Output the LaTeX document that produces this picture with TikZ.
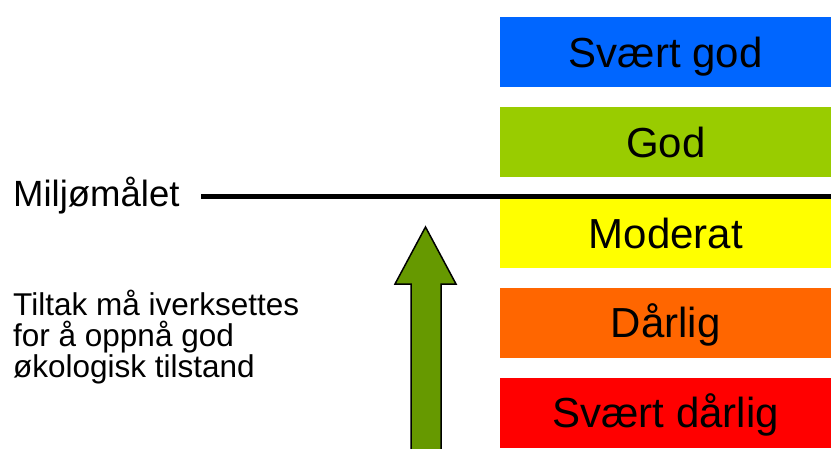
\documentclass[tikz,border=0pt]{standalone}
\usepackage{fontspec}
\setmainfont{Liberation Sans}
\definecolor{cblue}{HTML}{0066FF}
\definecolor{cgreen}{HTML}{99CC00}
\definecolor{cyellow}{HTML}{FFFF00}
\definecolor{corange}{HTML}{FF6600}
\definecolor{cred}{HTML}{FF0000}
\definecolor{carrow}{HTML}{669900}
\begin{document}
\begin{tikzpicture}[x=1pt,y=-1pt,
  classbox/.style={minimum width=331pt,minimum height=70pt,inner sep=0pt,anchor=north west,
    font=\fontsize{42}{46}\selectfont,text height=30pt,text depth=0pt},
  lefttext/.style={inner sep=0pt,anchor=base west,font=\fontsize{31}{31}\selectfont}]
\useasboundingbox (0,0) rectangle (831,448);
\node[classbox,fill=cblue] (sg) at (500,17) {Svært god};
\node[classbox,fill=cgreen] (g) at (500,107) {God};
\node[classbox,fill=cyellow] (m) at (500,198) {Moderat};
\node[classbox,fill=corange] (d) at (500,287.5) {Dårlig};
\node[classbox,fill=cred] (sd) at (500,377.5) {Svært dårlig};
\node[lefttext,font=\fontsize{36.5}{36.5}\selectfont] (mal) at (13,206) {Miljømålet};
\coordinate (ls) at (201,196.5);
\coordinate (le) at (831,196.5);
\draw[line width=5.5pt] (ls) -- (le);
\node[lefttext,align=left,font=\fontsize{31.5}{30.8}\selectfont] (tiltak) at (13,377)
  {Tiltak må iverksettes\\for å oppnå god\\økologisk tilstand};
\draw[fill=carrow,line width=1.5pt,line join=miter] (411,455) -- (411,284) -- (395,284) -- (425.5,227) -- (456,284) -- (441,284) -- (441,455) -- cycle;
\end{tikzpicture}
\end{document}
